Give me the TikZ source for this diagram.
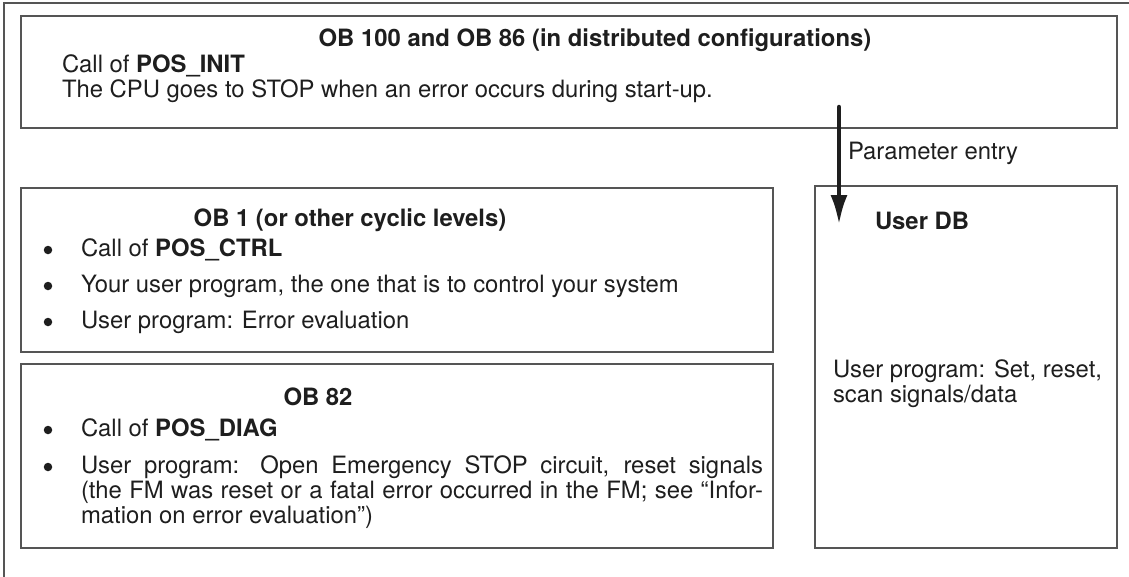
\documentclass[tikz,border=0pt]{standalone}
\usepackage{fontspec}
\setmainfont{TeX Gyre Heros}
\usepackage{tikz}
\usetikzlibrary{arrows.meta}

\begin{document}
\begin{tikzpicture}[x=1pt,y=-1pt,line cap=rect]
	\def\obfont{\fontsize{23.85pt}{25pt}\selectfont}
	\def\fullline#1{\makebox[682pt][s]{#1}}
	\definecolor{custcol_frame}{RGB}{85, 85, 85}
	\definecolor{custcol_text}{RGB}{30, 30, 30}
	\tikzset{
		obbox/.style={draw=custcol_frame, line width=1.6pt, inner sep=0, outer sep=0},
		obtext/.style={inner sep=0, outer sep=0, text=custcol_text, font=\obfont, anchor=west, align=left},
		obtitle/.style={inner sep=0, outer sep=0, text=custcol_text, font=\obfont\bfseries},
		obbullet/.style={circle, fill=custcol_text, inner sep=0, outer sep=0, minimum size=8.5pt},
	}
	\useasboundingbox (0,0) rectangle (1129,576);
	% outer frame
	\draw [line width=1.6pt, custcol_frame] (1129,3) -- (4,3) -- (4,576);
	% boxes
	\node [obbox, anchor=north west, minimum width=1096pt, minimum height=112pt] (ob100) at (21,16) {};
	\node [obbox, anchor=north west, minimum width=752pt, minimum height=164pt] (ob1) at (21,188) {};
	\node [obbox, anchor=north west, minimum width=752pt, minimum height=184pt] (ob82) at (21,364) {};
	\node [obbox, anchor=north west, minimum width=302pt, minimum height=362pt] (userdb) at (815,186) {};
	% OB 100 / OB 86
	\node [obtitle] (t100) at (595,40) {OB 100 and OB 86 (in distributed configurations)};
	\node [obtext] (init) at (62,78.5) {Call of \textbf{POS\_INIT}\\The CPU goes to STOP when an error occurs during start-up.};
	% parameter entry
	\coordinate (pstart) at (839,107);
	\coordinate (pend) at (839,225);
	\draw [line width=4.5pt, custcol_text, line cap=round, -{Latex[length=30pt,width=17pt]}] (pstart) -- (pend);
	\node [obtext] (param) at (848,153) {Parameter entry};
	% user DB
	\node [obtext, font=\obfont\bfseries] (tdb) at (875,221) {User DB};
	\node [obtext] (dbprog) at (833,384) {User program: Set, reset,\\scan signals/data};
	% OB 1
	\node [obtitle] (t1) at (350,220) {OB 1 (or other cyclic levels)};
	\node [obbullet] (b11) at (48,250) {};
	\node [obtext] (ctrl) at (81,250) {Call of \textbf{POS\_CTRL}};
	\node [obbullet] (b12) at (48,286) {};
	\node [obtext] (own) at (81,286) {Your user program, the one that is to control your system};
	\node [obbullet] (b13) at (48,322) {};
	\node [obtext] (eval) at (81,322) {User program: Error evaluation};
	% OB 82
	\node [obtitle] (t82) at (318,397) {OB 82};
	\node [obbullet] (b21) at (48,430) {};
	\node [obtext] (diag) at (81,430) {Call of \textbf{POS\_DIAG}};
	\node [obbullet] (b22) at (48,467) {};
	\node [obtext] (estop) at (81,492) {\fullline{User program: Open Emergency STOP circuit, reset signals}\\\fullline{(the FM was reset or a fatal error occurred in the FM; see “Infor-}\\mation on error evaluation”)};
\end{tikzpicture}
\end{document}
